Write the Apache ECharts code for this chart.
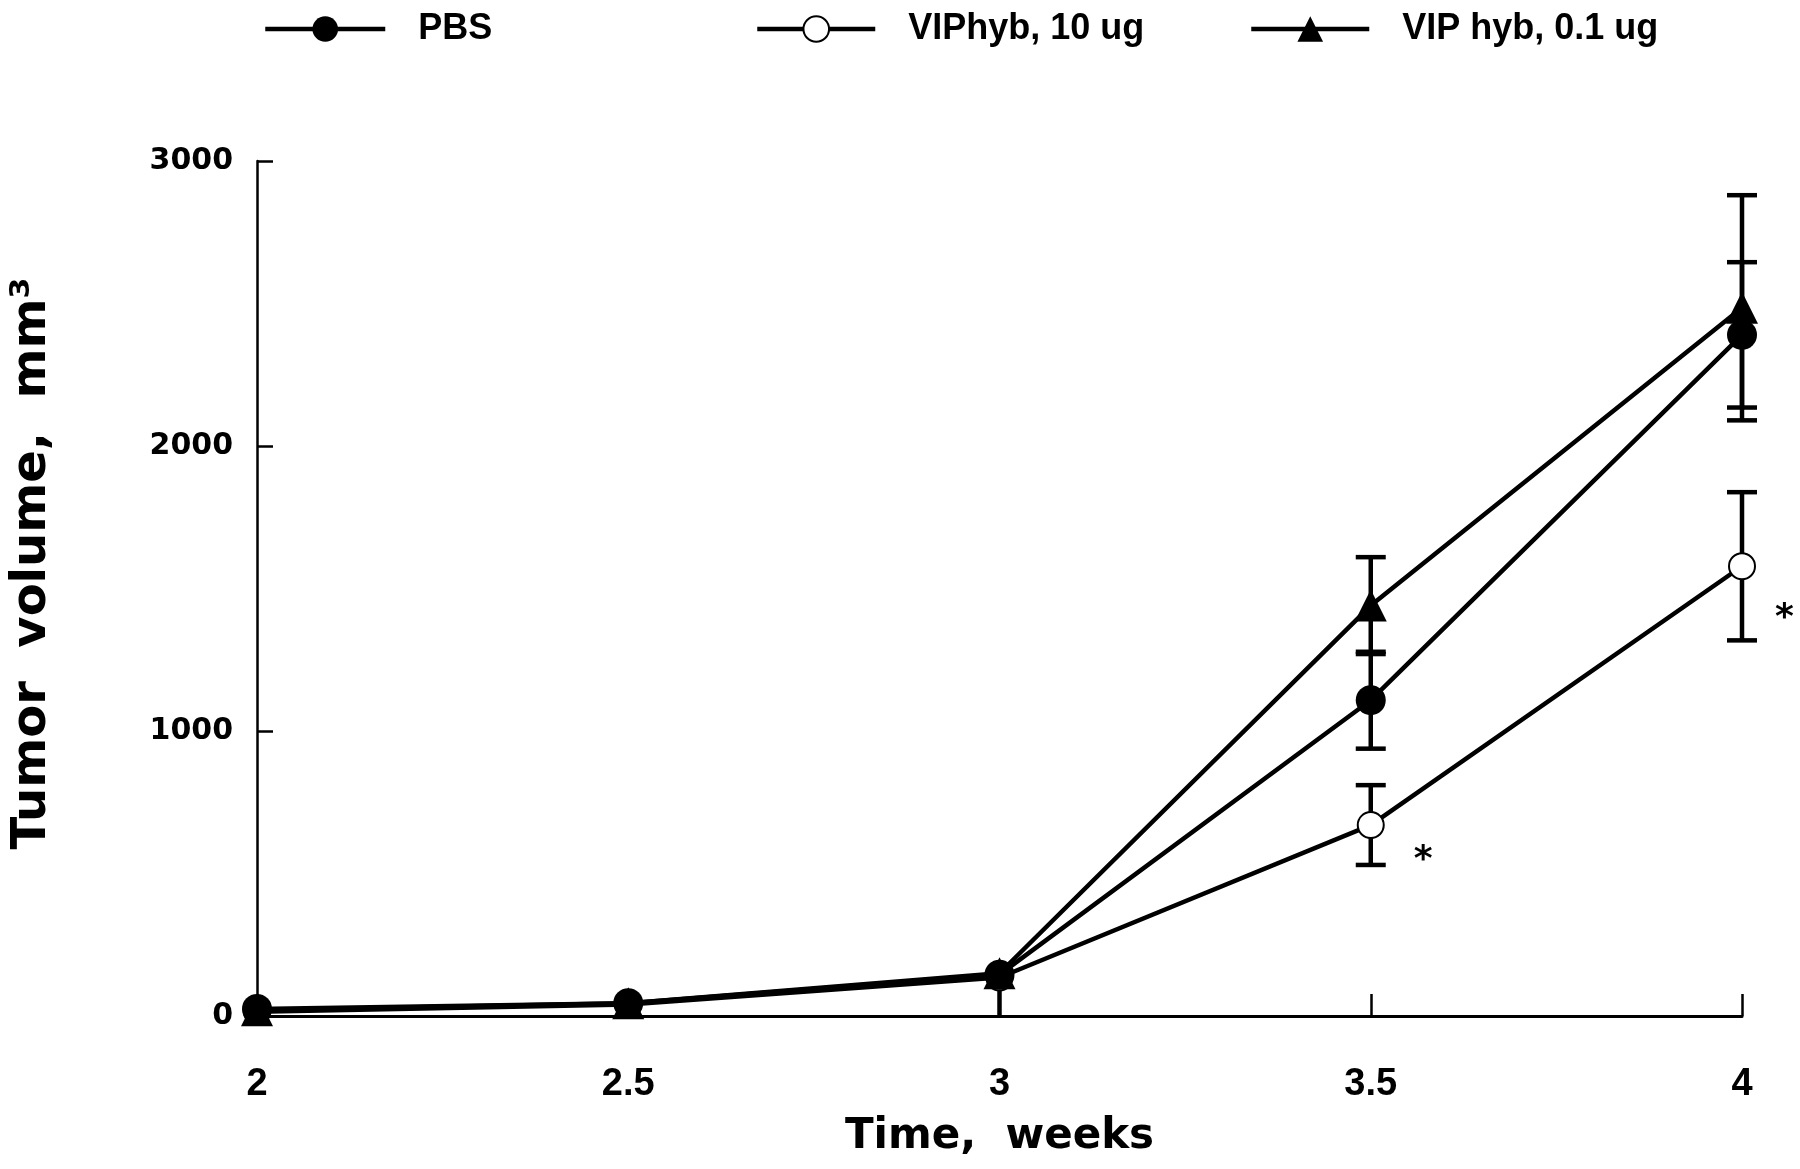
<!DOCTYPE html>
<html>
<head>
<meta charset="utf-8">
<script src="https://cdn.jsdelivr.net/npm/echarts@6/dist/echarts.min.js"></script>
<style>
html,body{margin:0;padding:0;background:#fff;}
#chart{width:1800px;height:1169px;}
</style>
</head>
<body>
<div id="chart"></div>
<script>
const weeks = [2, 2.5, 3, 3.5, 4];
const xTickLabels = ['2', '2.5', '3', '3.5', '4'];
const yTickLabels = ['0', '1000', '2000', '3000'];
const seriesNames = ['PBS', 'VIPhyb, 10 ug', 'VIP hyb, 0.1 ug'];
const pbsMean = [25, 45, 145, 1108, 2390];
const pbsErrLow = [0, 0, 145, 170, 255];
const pbsErrHigh = [0, 0, 0, 170, 255];
const vip10Mean = [15, 40, 135, 670, 1578];
const vip10ErrLow = [0, 0, 0, 140, 260];
const vip10ErrHigh = [0, 0, 0, 140, 260];
const vip01Mean = [20, 45, 150, 1440, 2485];
const vip01ErrLow = [0, 0, 0, 170, 395];
const vip01ErrHigh = [0, 0, 0, 170, 395];
const sigMarks = ['', '', '', '*', '*'];

const BLACK = '#000';
const narrow = '"Liberation Sans Narrow", "Liberation Sans", Arial, sans-serif';
const wide = '"DejaVu Sans", Verdana, sans-serif';

function pts(mean) { return weeks.map((w, i) => [w, mean[i]]); }
function errData(mean, lo, hi) {
  return weeks.map((w, i) => [w, mean[i] - lo[i], mean[i] + hi[i], lo[i], hi[i]])
    .filter((d, i) => lo[i] > 0 || hi[i] > 0);
}
function errSeries(name, mean, lo, hi) {
  return {
    type: 'custom',
    name: name + ' err',
    z: 1,
    silent: true,
    data: errData(mean, lo, hi),
    renderItem: function (params, api) {
      const x = api.value(0);
      const l = api.coord([x, api.value(1)]);
      const h = api.coord([x, api.value(2)]);
      const hw = 15;
      const st = { stroke: BLACK, lineWidth: 4.5 };
      const kids = [{ type: 'line', shape: { x1: l[0], y1: l[1], x2: h[0], y2: h[1] }, style: st }];
      if (api.value(4) > 0) kids.push({ type: 'line', shape: { x1: h[0] - hw, y1: h[1], x2: h[0] + hw, y2: h[1] }, style: st });
      if (api.value(3) > 0 && api.value(1) > 0) kids.push({ type: 'line', shape: { x1: l[0] - hw, y1: l[1], x2: l[0] + hw, y2: l[1] }, style: st });
      return { type: 'group', children: kids };
    }
  };
}

const lineStyle = { color: BLACK, width: 4.5 };
const legendText = { fontFamily: narrow, fontWeight: 'bold', fontSize: 36, color: BLACK, padding: [0, 0, 0, 28] };
const legendLine = { width: 4.5, color: BLACK };

const option = {
  backgroundColor: '#fff',
  animation: false,
  legend: [
    { data: [seriesNames[0]], left: 258, top: 6, itemWidth: 120, itemHeight: 32, textStyle: legendText, lineStyle: legendLine },
    { data: [seriesNames[1]], left: 750, top: 6, itemWidth: 118, itemHeight: 32, textStyle: legendText, lineStyle: legendLine },
    { data: [seriesNames[2]], left: 1244, top: 6, itemWidth: 118, itemHeight: 32, textStyle: legendText, lineStyle: legendLine }
  ],
  grid: { left: 257, right: 58, top: 161, bottom: 153 },
  xAxis: {
    type: 'value', min: 2, max: 4, interval: 0.5,
    name: 'Time,  weeks', nameLocation: 'middle', nameGap: 100,
    nameTextStyle: { fontFamily: wide, fontWeight: 'bold', fontSize: 42, color: BLACK },
    axisLine: { show: true, onZero: false, lineStyle: { color: BLACK, width: 3 } },
    axisTick: { show: true, inside: true, length: 22, lineStyle: { color: BLACK, width: 2.5 } },
    splitLine: { show: false },
    axisLabel: {
      margin: 50, fontFamily: narrow, fontWeight: 'bold', fontSize: 38, color: BLACK,
      formatter: v => xTickLabels[weeks.indexOf(Math.round(v * 2) / 2)] || ''
    }
  },
  yAxis: {
    type: 'value', min: 0, max: 3000, interval: 1000,
    name: '   Tumor  volume,  mm³', nameLocation: 'middle', nameGap: 200, nameRotate: 90,
    nameTextStyle: { fontFamily: wide, fontWeight: 'bold', fontSize: 48, color: BLACK },
    axisLine: { show: true, lineStyle: { color: BLACK, width: 2.5 } },
    axisTick: { show: true, inside: true, length: 16, lineStyle: { color: BLACK, width: 2.5 } },
    splitLine: { show: false },
    axisLabel: {
      margin: 24, fontFamily: wide, fontWeight: 'bold', fontSize: 30, color: BLACK,
      formatter: v => yTickLabels[Math.round(v / 1000)]
    }
  },
  series: [
    errSeries(seriesNames[0], pbsMean, pbsErrLow, pbsErrHigh),
    errSeries(seriesNames[1], vip10Mean, vip10ErrLow, vip10ErrHigh),
    errSeries(seriesNames[2], vip01Mean, vip01ErrLow, vip01ErrHigh),
    {
      type: 'line', name: seriesNames[1], z: 3,
      data: weeks.map((w, i) => ({
        value: [w, vip10Mean[i]],
        label: sigMarks[i] ? {
          show: true, formatter: sigMarks[i], position: 'right',
          offset: i === 3 ? [24, 36] : [14, 52],
          fontFamily: wide, fontWeight: 'bold', fontSize: 36, color: BLACK
        } : { show: false }
      })),
      symbol: 'emptyCircle', symbolSize: 26,
      itemStyle: { color: BLACK, borderColor: BLACK, borderWidth: 4 },
      lineStyle: lineStyle
    },
    {
      type: 'line', name: seriesNames[2], data: pts(vip01Mean), z: 4,
      symbol: 'triangle', symbolSize: 32,
      itemStyle: { color: BLACK }, lineStyle: lineStyle
    },
    {
      type: 'line', name: seriesNames[0], data: pts(pbsMean), z: 5,
      symbol: 'circle', symbolSize: 30,
      itemStyle: { color: BLACK }, lineStyle: lineStyle
    }
  ]
};

const chart = echarts.init(document.getElementById('chart'), null, { renderer: 'canvas' });
chart.setOption(option);
</script>
</body>
</html>
